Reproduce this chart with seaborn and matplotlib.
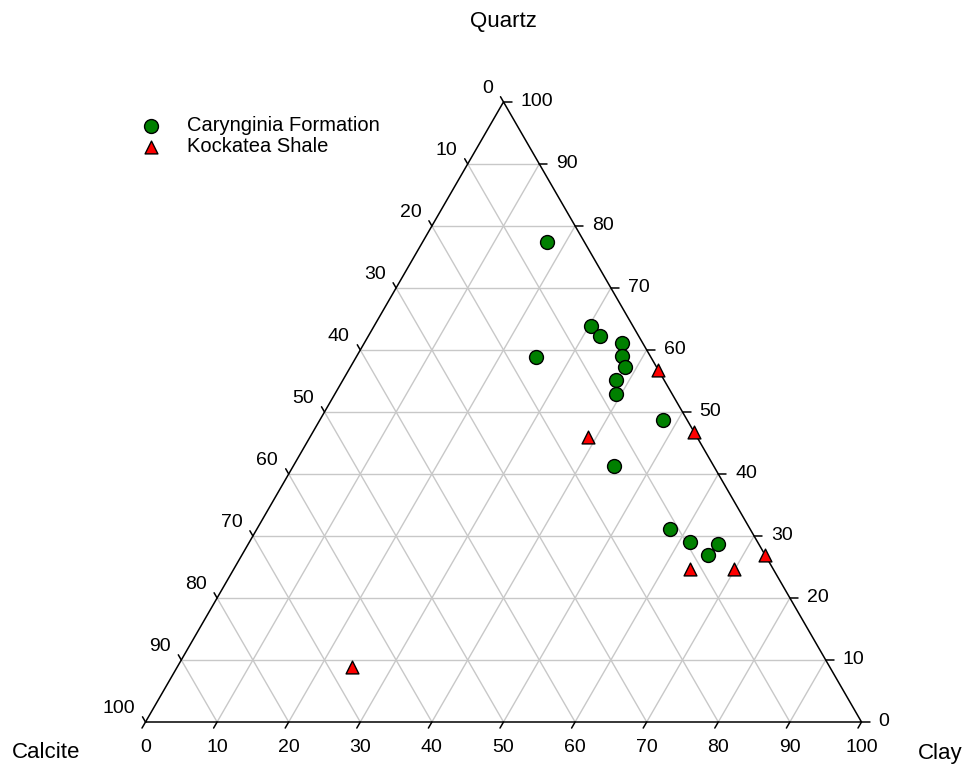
import numpy as np
import pandas as pd
import matplotlib
matplotlib.use("Agg")
import matplotlib.pyplot as plt
import seaborn as sns

# Composition (%) of each sample: calcite, clay, quartz
caryn_calcite = [5.2, 5.8, 5.4, 2.9, 3.9, 4.5, 6.7, 7.8, 16.1, 3.4, 13.9, 11.2, 9.5, 5.7, 7.9]
caryn_clay = [17.4, 30.3, 32.3, 35.9, 37.0, 38.3, 38.2, 39.3, 25.1, 47.9, 44.8, 57.6, 61.5, 65.6, 65.1]
caryn_quartz = [77.4, 63.9, 62.3, 61.2, 59.1, 57.2, 55.1, 52.9, 58.8, 48.7, 41.3, 31.2, 29.0, 28.7, 27.0]

kock_calcite = [0.0, 0.0, 15.3, 11.7, 5.5, 0.0, 66.8]
kock_clay = [43.2, 53.2, 38.8, 63.7, 69.9, 73.0, 24.4]
kock_quartz = [56.8, 46.8, 45.9, 24.6, 24.6, 27.0, 8.8]

group_names = ["Carynginia Formation", "Kockatea Shale"]
tick_values = [0, 10, 20, 30, 40, 50, 60, 70, 80, 90, 100]
apex_labels = ["Calcite", "Clay", "Quartz"]

SQ = np.sqrt(3) / 2


def to_xy(calcite, clay, quartz):
    calcite, clay, quartz = (np.asarray(a, float) for a in (calcite, clay, quartz))
    tot = calcite + clay + quartz
    return (clay + quartz / 2) / tot, quartz / tot * SQ


sns.set_theme(style="white")
plt.rcParams["font.family"] = ["Liberation Sans", "DejaVu Sans"]
plt.rcParams["text.color"] = "black"

W_PX, H_PX = 965, 768
fig = plt.figure(figsize=(W_PX / 100, H_PX / 100), dpi=100)
ax = fig.add_axes([0, 0, 1, 1])
SIDE = 716.0      # triangle side in pixels
X0, Y0 = 145.5, 722.0  # pixel position of the Calcite apex
ax.set_xlim(-X0 / SIDE, (W_PX - X0) / SIDE)
ax.set_ylim((Y0 - H_PX) / SIDE, Y0 / SIDE)
ax.axis("off")
px = 1.0 / SIDE

grid_kw = dict(color="#c8c8c8", lw=1.0, zorder=1)
for k in tick_values[1:-1]:
    # constant quartz
    xa, ya = to_xy([100 - k, 0], [0, 100 - k], [k, k])
    ax.plot(xa, ya, **grid_kw)
    # constant clay
    xa, ya = to_xy([100 - k, 0], [k, k], [0, 100 - k])
    ax.plot(xa, ya, **grid_kw)
    # constant calcite
    xa, ya = to_xy([k, k], [100 - k, 0], [0, 100 - k])
    ax.plot(xa, ya, **grid_kw)

# triangle outline
tx, ty = to_xy([100, 0, 0, 100], [0, 100, 0, 0], [0, 0, 100, 0])
ax.plot(tx, ty, color="black", lw=1.1, zorder=2)

fs = 14
for k in tick_values:
    lbl = str(k)
    # bottom axis: clay
    bx, by = to_xy([100 - k], [k], [0])
    bx, by = bx[0], by[0]
    ax.plot([bx, bx - 0.5 * 7 * px], [by, by - SQ * 7 * px], color="black", lw=1.1, zorder=2)
    ax.text(bx, by - 26 * px, lbl, ha="center", va="center", fontsize=fs)
    # right axis: quartz
    rx, ry = to_xy([0], [100 - k], [k])
    rx, ry = rx[0], ry[0]
    ax.plot([rx, rx + 8 * px], [ry, ry], color="black", lw=1.1, zorder=2)
    ax.text(rx + 17 * px, ry, lbl, ha="left", va="center", fontsize=fs)
    # left axis: calcite
    lx, ly = to_xy([k], [0], [100 - k])
    lx, ly = lx[0], ly[0]
    ax.plot([lx, lx - 0.5 * 6 * px], [ly, ly + SQ * 6 * px], color="black", lw=1.1, zorder=2)
    ax.text(lx - 10.5 * px, ly + 13.5 * px, lbl, ha="right", va="center", fontsize=fs)

# apex titles
tfs = 16
ax.text((503 - X0) * px, (Y0 - 22) * px, apex_labels[2], ha="center", va="center", fontsize=tfs)
ax.text((46 - X0) * px, (Y0 - 753) * px, apex_labels[0], ha="center", va="center", fontsize=tfs)
ax.text((940 - X0) * px, (Y0 - 753) * px, apex_labels[1], ha="center", va="center", fontsize=tfs)

cx, cy = to_xy(caryn_calcite, caryn_clay, caryn_quartz)
kx, ky = to_xy(kock_calcite, kock_clay, kock_quartz)
df = pd.concat([
    pd.DataFrame({"x": cx, "y": cy, "group": group_names[0]}),
    pd.DataFrame({"x": kx, "y": ky, "group": group_names[1]}),
], ignore_index=True)

sns.scatterplot(data=df[df.group == group_names[0]], x="x", y="y", color="#008000",
                marker="o", s=100, edgecolor="black", linewidth=1.0, label=group_names[0],
                ax=ax, zorder=5)
sns.scatterplot(data=df[df.group == group_names[1]], x="x", y="y", color="#ff0000",
                marker="^", s=85, edgecolor="black", linewidth=1.0, label=group_names[1],
                ax=ax, zorder=5)

leg = ax.legend(loc="upper left", bbox_to_anchor=(139 / W_PX, 1 - 116 / H_PX),
                bbox_transform=fig.transFigure, frameon=False, fontsize=14.5,
                handletextpad=1.2, labelspacing=0.12, borderaxespad=0, borderpad=0,
                handlelength=1.2)

fig.savefig("out.png", dpi=100)
